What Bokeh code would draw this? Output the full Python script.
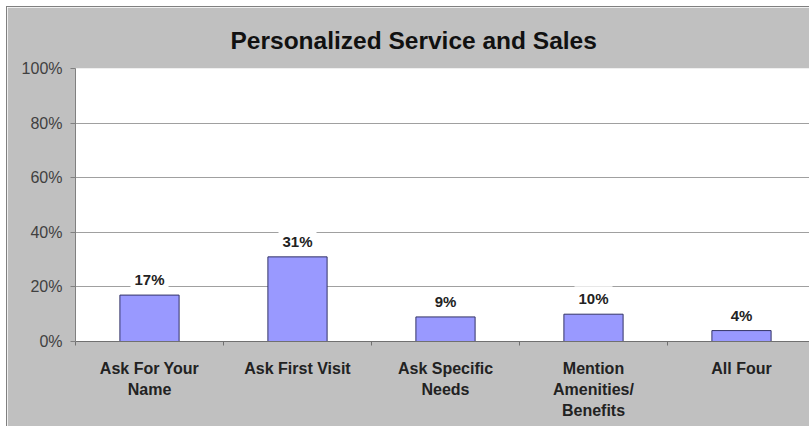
from bokeh.plotting import figure
from bokeh.models import (ColumnDataSource, Range1d, FixedTicker, PrintfTickFormatter)
from bokeh.core.properties import value
from bokeh.embed import file_html
from bokeh.resources import INLINE

title = "Personalized Service and Sales"
categories = ["Ask For Your\nName", "Ask First Visit", "Ask Specific\nNeeds",
              "Mention\nAmenities/\nBenefits", "All Four"]
values = [17, 31, 9, 10, 4]
value_labels = ["17%", "31%", "9%", "10%", "4%"]
y_ticks = [0, 20, 40, 60, 80, 100]

xs = [i + 0.5 for i in range(len(categories))]
src = ColumnDataSource(dict(x=xs, top=values, lab=value_labels))

FONT = "Liberation Sans"
GRAY = "#c0c0c0"

p = figure(width=803, height=420, output_backend="svg", toolbar_location=None,
           x_range=Range1d(0, 735 / 148), y_range=Range1d(0, 100),
           min_border_left=68, min_border_right=0, min_border_top=61,
           min_border_bottom=86)
p.margin = (6, 0, 0, 6)
p.styles = {"border-left": "1px solid #808080", "border-top": "1px solid #808080"}
p.border_fill_color = GRAY
p.background_fill_color = "white"
p.outline_line_color = None

p.title.text = title
p.title.align = "left"
p.title.offset = 155
p.title.standoff = 30
p.title.text_line_height = 1.0
p.title.text_font = FONT
p.title.text_font_style = "bold"
p.title.text_font_size = "24.5px"
p.title.text_color = "#111111"

p.vbar(x="x", top="top", width=0.4, source=src, fill_color="#9999ff",
       line_color="#333366", line_width=1)

# grid
p.xgrid.visible = False
p.ygrid.ticker = FixedTicker(ticks=y_ticks[1:])
p.ygrid.grid_line_color = "#a0a0a0"

# y axis
p.yaxis.ticker = FixedTicker(ticks=y_ticks)
p.yaxis.formatter = PrintfTickFormatter(format="%d%%")
p.yaxis.major_label_text_font = FONT
p.yaxis.major_label_text_font_size = "16px"
p.yaxis.major_label_text_color = "#404040"
p.yaxis.axis_line_color = "#808080"
p.yaxis.major_tick_line_color = "#808080"
p.yaxis.major_tick_out = 5
p.yaxis.major_tick_in = 0
p.yaxis.minor_tick_line_color = None
p.yaxis.major_label_standoff = 8

# x axis
p.xaxis.ticker = FixedTicker(ticks=xs, minor_ticks=list(range(len(categories) + 1)))
p.xaxis.major_label_overrides = {x: c for x, c in zip(xs, categories)}
p.xaxis.major_label_text_font = FONT
p.xaxis.major_label_text_font_style = "bold"
p.xaxis.major_label_text_font_size = "16px"
p.xaxis.major_label_text_color = "#222222"
p.xaxis.major_label_text_line_height = 1.25
p.xaxis.axis_line_color = "#707070"
p.xaxis.major_tick_line_color = None
p.xaxis.major_tick_out = 0
p.xaxis.major_tick_in = 0
p.xaxis.minor_tick_line_color = "#707070"
p.xaxis.minor_tick_out = 4
p.xaxis.minor_tick_in = 0
p.xaxis.major_label_standoff = 14

p.text(x="x", y="top", text="lab", source=src, y_offset=-3,
       text_align="center", text_baseline="bottom",
       text_font=value(FONT), text_font_style="bold", text_font_size="15px",
       text_color="#222222", background_fill_color="white", padding=4)

open("out.html", "w").write(file_html(p, INLINE))
